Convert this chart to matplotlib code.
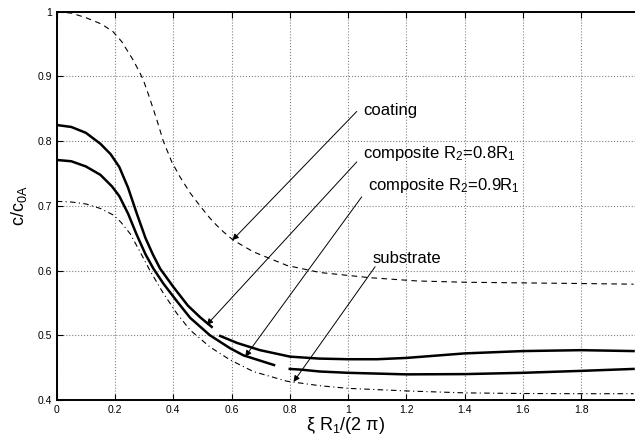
import matplotlib
matplotlib.use('Agg')
import matplotlib.pyplot as plt
from matplotlib.ticker import FuncFormatter

plt.rcParams['font.family'] = ['Liberation Sans', 'DejaVu Sans']
plt.rcParams['mathtext.fontset'] = 'custom'
plt.rcParams['mathtext.rm'] = 'Liberation Sans'
plt.rcParams['mathtext.it'] = 'Liberation Sans'

# values
coat_x = [0, 0.05, 0.1, 0.154, 0.194, 0.223, 0.263, 0.284, 0.297, 0.315, 0.343, 0.366, 0.395,
          0.423, 0.458, 0.492, 0.526, 0.549, 0.572, 0.606, 0.675, 0.79, 0.904, 1.076,
          1.236, 1.4, 1.6, 1.8, 1.98]
coat_y = [1.0, 0.998, 0.991, 0.981, 0.969, 0.954, 0.925, 0.907, 0.895, 0.872, 0.834, 0.80, 0.768,
          0.745, 0.720, 0.700, 0.681, 0.670, 0.660, 0.647, 0.629, 0.608, 0.597, 0.589,
          0.584, 0.582, 0.581, 0.580, 0.579]

c8_x1 = [0, 0.05, 0.1, 0.15, 0.185, 0.215, 0.245, 0.275, 0.305, 0.33, 0.355, 0.4, 0.45, 0.492, 0.532]
c8_y1 = [0.825, 0.822, 0.813, 0.796, 0.780, 0.760, 0.728, 0.688, 0.650, 0.625, 0.603, 0.575, 0.546,
         0.528, 0.513]
c8_x2 = [0.561, 0.62, 0.698, 0.801, 0.9, 1.0, 1.1, 1.2, 1.4, 1.6, 1.8, 1.98]
c8_y2 = [0.499, 0.488, 0.477, 0.467, 0.464, 0.463, 0.463, 0.465, 0.472, 0.4756, 0.477, 0.4756]

c9_x1 = [0, 0.05, 0.1, 0.15, 0.19, 0.215, 0.245, 0.275, 0.305, 0.332, 0.366, 0.412, 0.458, 0.526,
         0.595, 0.641, 0.746]
c9_y1 = [0.771, 0.769, 0.761, 0.748, 0.730, 0.715, 0.688, 0.655, 0.625, 0.603, 0.580, 0.553, 0.527,
         0.50, 0.480, 0.469, 0.454]
c9_x2 = [0.80, 0.836, 0.904, 1.0, 1.2, 1.4, 1.6, 1.8, 1.98]
c9_y2 = [0.448, 0.447, 0.444, 0.442, 0.4396, 0.440, 0.442, 0.445, 0.448]

sub_x = [0, 0.05, 0.1, 0.15, 0.194, 0.22, 0.252, 0.285, 0.32, 0.366, 0.412, 0.458, 0.526, 0.595,
         0.675, 0.79, 0.904, 1.0, 1.2, 1.4, 1.6, 1.8, 1.98]
sub_y = [0.707, 0.706, 0.703, 0.696, 0.686, 0.675, 0.657, 0.630, 0.60, 0.565, 0.534, 0.508, 0.482,
         0.462, 0.444, 0.429, 0.422, 0.418, 0.414, 0.411, 0.410, 0.4097, 0.4097]

labels = ['coating', 'composite R$_2$=0.8R$_1$', 'composite R$_2$=0.9R$_1$', 'substrate']
label_pos = [(1.053, 0.848), (1.053, 0.781), (1.067, 0.732), (1.085, 0.619)]
arrow_tail = [(1.03, 0.846), (1.03, 0.768), (1.047, 0.714), (1.093, 0.606)]
arrow_tip = [(0.603, 0.647), (0.515, 0.516), (0.647, 0.467), (0.813, 0.428)]

fig = plt.figure(figsize=(6.35, 4.37), dpi=100)
ax = fig.add_axes([0.0893, 0.0847, 0.9107, 0.8883])

ax.plot(coat_x, coat_y, color='black', lw=0.8, dashes=(5, 4))
ax.plot(c8_x1, c8_y1, color='black', lw=1.8)
ax.plot(c8_x2, c8_y2, color='black', lw=1.8)
ax.plot(c9_x1, c9_y1, color='black', lw=1.8)
ax.plot(c9_x2, c9_y2, color='black', lw=1.8)
ax.plot(sub_x, sub_y, color='black', lw=0.8, dashes=(5, 3, 1, 3))

for lab, pos, tail, tip in zip(labels, label_pos, arrow_tail, arrow_tip):
    ax.text(pos[0], pos[1], lab, fontsize=12, ha='left', va='center')
    ax.annotate('', xy=tip, xytext=tail,
                arrowprops=dict(arrowstyle='-|>', color='black', lw=0.7,
                                mutation_scale=9, shrinkA=0, shrinkB=0))

ax.set_xlim(0, 1.985)
ax.set_ylim(0.4, 1.0)
ax.set_xticks([0, 0.2, 0.4, 0.6, 0.8, 1.0, 1.2, 1.4, 1.6, 1.8])
ax.set_yticks([0.4, 0.5, 0.6, 0.7, 0.8, 0.9, 1.0])
fmt = FuncFormatter(lambda v, p: '%g' % round(v, 2))
ax.xaxis.set_major_formatter(fmt)
ax.yaxis.set_major_formatter(fmt)
ax.tick_params(direction='in', top=True, right=False, labelsize=7.5, length=4, width=0.8)
ax.grid(True, color='gray', linestyle=':', lw=0.8)
ax.spines['right'].set_visible(False)
for s in ['left', 'bottom', 'top']:
    ax.spines[s].set_linewidth(1.4)

ax.set_xlabel(r'$\xi$ R$_1$/(2 $\pi$)', fontsize=13, labelpad=0)
ax.set_ylabel('c/c$_{0A}$', fontsize=13, labelpad=6)

fig.savefig('out.png', dpi=100)
